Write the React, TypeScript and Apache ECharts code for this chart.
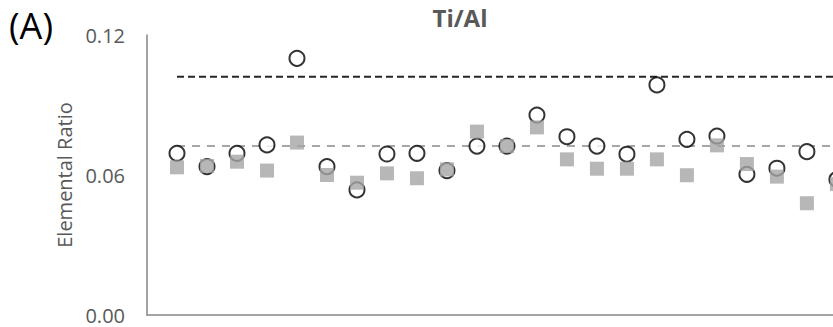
import React, { useEffect, useRef } from "react";
import * as echarts from "echarts";

const sampleIndex = [1, 2, 3, 4, 5, 6, 7, 8, 9, 10, 11, 12, 13, 14, 15, 16, 17, 18, 19, 20, 21, 22, 23];
const circleValues = [0.0693, 0.0636, 0.0693, 0.0729, 0.110, 0.0636, 0.0536, 0.069, 0.0693, 0.0619, 0.0724, 0.0724, 0.0857, 0.0764, 0.0724, 0.0689, 0.0986, 0.0753, 0.0767, 0.0603, 0.0629, 0.070, 0.0581];
const squareValues = [0.0633, 0.0639, 0.0657, 0.0619, 0.0739, 0.060, 0.0567, 0.0607, 0.0586, 0.0624, 0.0786, 0.0724, 0.0804, 0.0667, 0.0627, 0.0627, 0.0667, 0.0599, 0.0727, 0.0647, 0.0593, 0.0479, 0.0561];
const blackRefLine = 0.1021;
const grayRefLine = 0.0724;
const yTicks = [0, 0.06, 0.12];

export default function App() {
  const ref = useRef<HTMLDivElement>(null);
  useEffect(() => {
    if (!ref.current) return;
    const chart = echarts.init(ref.current, undefined, { renderer: "svg" });
    const font = "'Open Sans', 'Noto Sans', sans-serif";
    const xMin = sampleIndex[0];
    const xMax = 22.87;
    chart.setOption({
      animation: false,
      textStyle: { fontFamily: font },
      title: {
        text: "Ti/Al",
        left: 455,
        top: 0,
        textAlign: "center",
        textStyle: { fontSize: 24, fontWeight: "bold", color: "#595959", fontFamily: font },
      },
      graphic: [
        {
          type: "text",
          left: 9,
          top: 7,
          style: { text: "(A)", fontSize: 36, lineHeight: 36, fill: "#000", fontFamily: font },
        },
      ],
      grid: { left: 147, top: 35, right: 0, bottom: 12 },
      xAxis: {
        type: "value",
        min: 0,
        max: xMax,
        axisLine: { show: true, lineStyle: { color: "#868686", width: 1.5 } },
        axisTick: { show: false },
        axisLabel: { show: false },
        splitLine: { show: false },
      },
      yAxis: {
        type: "value",
        min: yTicks[0],
        max: yTicks[yTicks.length - 1],
        interval: 0.06,
        name: "Elemental Ratio",
        nameLocation: "middle",
        nameGap: 68,
        nameRotate: 90,
        nameTextStyle: { fontSize: 20, color: "#595959", fontFamily: font },
        axisLine: { show: true, lineStyle: { color: "#868686", width: 1.5 } },
        axisTick: { show: false },
        axisLabel: {
          fontSize: 20,
          color: "#595959",
          margin: 22,
          formatter: (v: number) => v.toFixed(2),
        },
        splitLine: { show: false },
      },
      series: [
        {
          type: "line",
          data: [[xMin, blackRefLine], [xMax, blackRefLine]],
          symbol: "none",
          lineStyle: { color: "#262626", width: 2, type: [7, 4] },
          z: 1,
        },
        {
          type: "line",
          data: [[xMin, grayRefLine], [xMax, grayRefLine]],
          symbol: "none",
          lineStyle: { color: "#a6a6a6", width: 2, type: [8, 7] },
          z: 1,
        },
        {
          type: "scatter",
          clip: false,
          data: sampleIndex.map((x, i) => [x, circleValues[i]]),
          symbol: "circle",
          symbolSize: 15,
          itemStyle: { color: "#ffffff", borderColor: "#000000", borderWidth: 2 },
          z: 2,
        },
        {
          type: "scatter",
          clip: false,
          data: sampleIndex.map((x, i) => [x, squareValues[i]]),
          symbol: "rect",
          symbolSize: 14,
          itemStyle: { color: "#a5a5a5" },
          z: 3,
        },
      ],
    });
    return () => chart.dispose();
  }, []);
  return (
    <div
      ref={ref}
      style={{ position: "absolute", left: 0, top: 0, width: 833, height: 327, background: "#fff" }}
    />
  );
}
